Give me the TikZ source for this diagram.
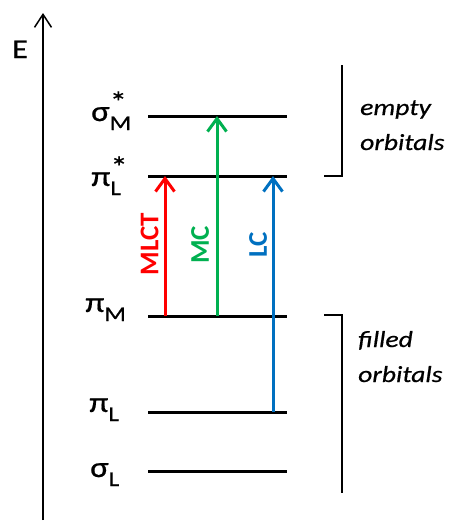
\documentclass[tikz,border=0pt]{standalone}
\usepackage{fontspec}
\setmainfont{Carlito}
\newfontfamily\widefont[FakeStretch=1.2,FakeBold=0.6]{Carlito}
\usetikzlibrary{arrows.meta}
\definecolor{mlctred}{RGB}{255,0,0}
\definecolor{mcgreen}{RGB}{0,176,80}
\definecolor{lcblue}{RGB}{0,112,192}
\newcommand{\orbital}[3]{#1\rlap{\raisebox{9pt}{#3}}\raisebox{-9pt}{\fontsize{21}{23}\selectfont #2}}

\begin{document}
\begin{tikzpicture}[x=1pt,y=-1pt,
	every node/.style={inner sep=0pt,font=\widefont\fontsize{29}{31}\selectfont},
	level/.style={line width=3pt},
	trans/.style={line width=3pt,-{Straight Barb[length=13pt,width=19pt]}},
	side/.style={font=\widefont\itshape\fontsize{23}{26}\selectfont,anchor=base west}]
	\useasboundingbox (0,0) rectangle (457,525);
	\coordinate (axis0) at (43,520);
	\coordinate (axis1) at (43,13);
	\draw[line width=1.8pt,-{Straight Barb[length=13pt,width=17pt,line width=1.5pt]}] (axis0) -- (axis1);
	\node[anchor=base west,font=\widefont\fontsize{27}{29}\selectfont] (E) at (12,58) {E};
	\coordinate (sigmaM) at (148,116);
	\coordinate (piLs) at (148,176);
	\coordinate (piM) at (148,316);
	\coordinate (piL) at (148,412);
	\coordinate (sigmaL) at (148,471);
	\foreach \lv in {sigmaM,piLs,piM,piL,sigmaL}
		\draw[level] (\lv) -- ++(139,0);
	\node[anchor=base west] (lsigmaM) at (91,121) {\orbital{σ}{M}{*}};
	\node[anchor=base west] (lpiLs) at (91,186) {\orbital{π}{L}{*}};
	\node[anchor=base west] (lpiM) at (85,312) {\orbital{π}{M}{}};
	\node[anchor=base west] (lpiL) at (89,412) {\orbital{π}{L}{}};
	\node[anchor=base west] (lsigmaL) at (90,477) {\orbital{σ}{L}{}};
	\coordinate (mlct0) at (165,316);
	\coordinate (mlct1) at (165,176);
	\coordinate (mc0) at (217,316);
	\coordinate (mc1) at (217,116);
	\coordinate (lc0) at (273,412);
	\coordinate (lc1) at (273,176);
	\draw[trans,mlctred] (mlct0) -- (mlct1);
	\draw[trans,mcgreen] (mc0) -- (mc1);
	\draw[trans,lcblue] (lc0) -- (lc1);
	\node[rotate=90,mlctred,font=\bfseries\fontsize{27}{29}\selectfont] (MLCT) at (149.5,244) {MLCT};
	\node[rotate=90,mcgreen,font=\bfseries\fontsize{27}{29}\selectfont] (MC) at (200,245) {MC};
	\node[rotate=90,lcblue,font=\bfseries\fontsize{27}{29}\selectfont] (LC) at (258,245) {LC};
	\draw[line width=1.5pt] (324,176) -- (342,176) -- (342,65);
	\draw[line width=1.5pt] (324,315) -- (342,315) -- (342,493);
	\node[side] (empty) at (360,115) {empty};
	\node[side] (emptyb) at (360,150) {orbitals};
	\node[side] (filled) at (358,347) {filled};
	\node[side] (filledb) at (358,382) {orbitals};
\end{tikzpicture}
\end{document}
